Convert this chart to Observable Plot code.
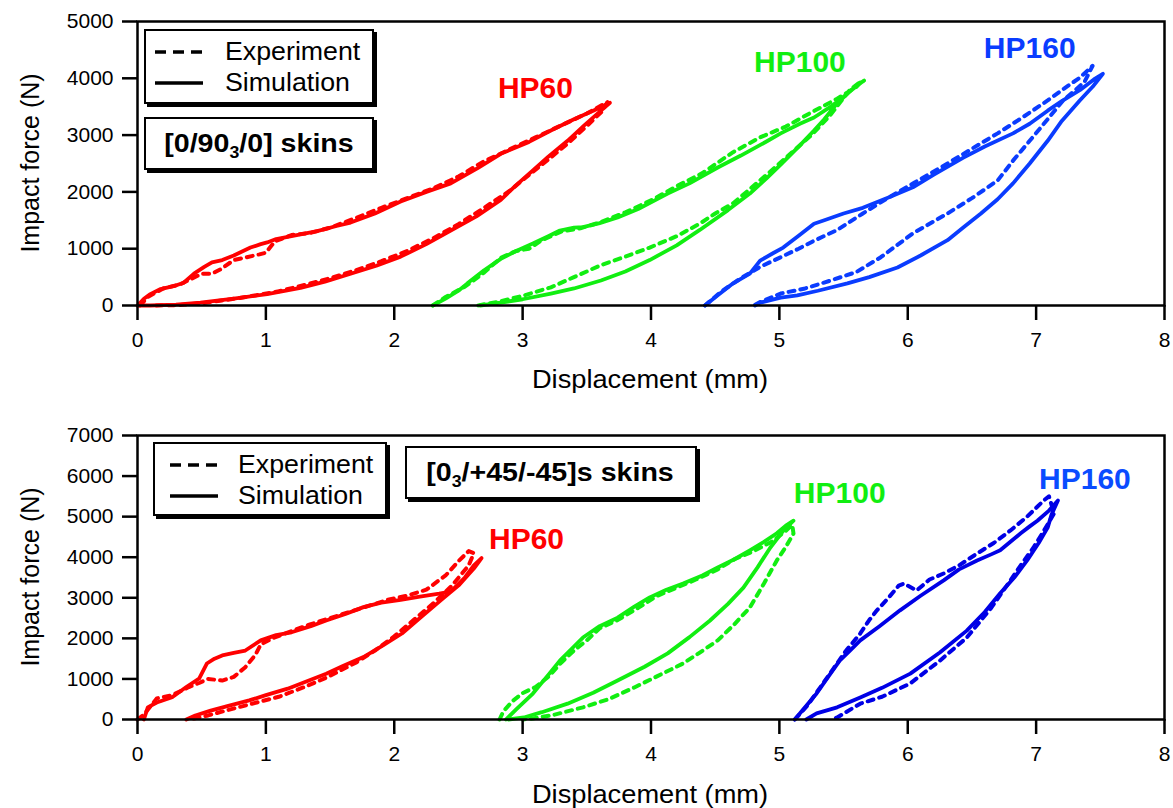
<!DOCTYPE html>
<html>
<head>
<meta charset="utf-8">
<script src="https://cdn.jsdelivr.net/npm/d3@7"></script>
<script src="https://cdn.jsdelivr.net/npm/@observablehq/plot@0.6"></script>
<style>
  html, body { margin: 0; padding: 0; background: #fff; }
  #wrap { position: relative; width: 1173px; height: 808px; font-family: "Liberation Sans", Arial, sans-serif; color: #000; overflow: hidden; }
  .plot { position: absolute; left: 0; }
  .box { position: absolute; box-sizing: border-box; border: 2px solid #000; box-shadow: 3px 3px 0 #000; background: #fff; }
  .txt { position: absolute; white-space: nowrap; line-height: 1; transform-origin: left center; transform: scaleX(1.07); }
  .ctr { position: absolute; white-space: nowrap; line-height: 1; transform: translate(-50%, -50%) scaleX(1.1); }
  .ytitle { position: absolute; white-space: nowrap; font-size: 25px; transform: translate(-50%, -50%) rotate(-90deg); }
  .xtitle { position: absolute; white-space: nowrap; font-size: 25px; transform: translate(-50%, -50%) scaleX(1.09); }
  sub { font-size: 0.62em; vertical-align: -0.35em; line-height: 0; }
</style>
</head>
<body>
<div id="wrap"></div>
<script>
// ---------------- DATA ----------------
const xTicks = [0, 1, 2, 3, 4, 5, 6, 7, 8];
const yTicksTop = [0, 1000, 2000, 3000, 4000, 5000];
const yTicksBottom = [0, 1000, 2000, 3000, 4000, 5000, 6000, 7000];
const specimens = ["HP60", "HP100", "HP160"];
const legendItems = ["Experiment", "Simulation"];

// Top panel: [0/90_3/0] skins  — [displacement mm, force N]
const top_HP60_sim = [[0,0],[0.05,120],[0.10,200],[0.18,290],[0.28,340],[0.36,400],[0.44,560],[0.52,680],[0.58,760],[0.66,800],[0.75,880],[0.88,1020],[0.96,1080],[1.01,1110],[1.08,1170],[1.20,1220],[1.40,1310],[1.55,1400],[1.66,1460],[1.85,1620],[2.05,1830],[2.25,2000],[2.44,2150],[2.65,2420],[2.83,2670],[3.05,2880],[3.22,3080],[3.40,3280],[3.55,3430],[3.68,3570],
  [3.61,3430],[3.48,3170],[3.35,2900],[3.20,2620],[3.08,2380],[2.95,2120],[2.83,1860],[2.64,1570],[2.44,1320],[2.25,1080],[2.05,860],[1.86,700],[1.66,560],[1.46,420],[1.27,310],[1.01,200],[0.75,120],[0.49,50],[0.30,15],[0.10,0],[0,0]];
const top_HP60_exp = [[0.02,0],[0.08,150],[0.20,300],[0.33,370],[0.42,470],[0.50,560],[0.58,560],[0.65,640],[0.75,800],[0.85,850],[0.95,900],[1.00,930],[1.07,1130],[1.20,1240],[1.35,1280],[1.50,1370],[1.70,1540],[1.90,1720],[2.10,1890],[2.30,2060],[2.50,2270],[2.70,2540],[2.90,2750],[3.10,2960],[3.30,3170],[3.50,3380],[3.62,3530],[3.66,3580],
  [3.62,3420],[3.50,3160],[3.35,2850],[3.20,2570],[3.05,2300],[2.90,2020],[2.70,1720],[2.50,1430],[2.30,1180],[2.10,960],[1.90,780],[1.70,620],[1.50,480],[1.30,360],[1.10,250],[0.90,170],[0.70,100],[0.50,40],[0.30,5],[0.10,0]];
const top_HP100_sim = [[2.30,0],[2.40,120],[2.50,260],[2.57,390],[2.70,620],[2.83,820],[2.95,960],[3.08,1090],[3.20,1220],[3.29,1320],[3.40,1370],[3.47,1380],[3.60,1450],[3.74,1550],[3.90,1700],[4.13,1970],[4.30,2150],[4.52,2430],[4.70,2640],[4.91,2900],[5.01,3030],[5.16,3200],[5.27,3310],[5.40,3500],[5.53,3730],[5.62,3900],[5.66,3960],
  [5.58,3830],[5.45,3560],[5.35,3280],[5.27,3080],[5.16,2820],[5.01,2480],[4.90,2240],[4.77,1970],[4.60,1680],[4.38,1330],[4.20,1060],[3.99,800],[3.80,600],[3.61,440],[3.40,300],[3.22,210],[3.00,110],[2.83,50],[2.67,0]];
const top_HP100_exp = [[2.30,0],[2.40,150],[2.55,330],[2.70,580],[2.83,840],[2.95,960],[3.05,1000],[3.15,1150],[3.30,1300],[3.45,1360],[3.60,1460],[3.80,1640],[4.00,1850],[4.20,2100],[4.40,2330],[4.64,2700],[4.85,2960],[5.05,3150],[5.25,3400],[5.45,3640],[5.60,3850],[5.64,3950],
  [5.55,3800],[5.40,3360],[5.25,3000],[5.10,2700],[4.91,2320],[4.77,2050],[4.64,1800],[4.50,1620],[4.38,1440],[4.20,1220],[3.99,1020],[3.80,860],[3.61,710],[3.40,500],[3.22,320],[3.00,170],[2.80,60],[2.65,0]];
const top_HP160_sim = [[4.42,0],[4.52,180],[4.64,390],[4.77,560],[4.85,790],[4.95,920],[5.03,1020],[5.15,1230],[5.27,1440],[5.35,1500],[5.50,1620],[5.65,1720],[5.85,1900],[6.04,2080],[6.20,2300],[6.43,2600],[6.60,2800],[6.82,3030],[6.95,3200],[7.09,3430],[7.20,3600],[7.34,3790],[7.45,3980],[7.52,4080],
  [7.44,3850],[7.34,3610],[7.20,3250],[7.09,2900],[6.95,2500],[6.82,2150],[6.70,1870],[6.57,1620],[6.43,1370],[6.31,1150],[6.10,880],[5.92,670],[5.70,500],[5.53,390],[5.30,260],[5.14,180],[5.01,140],[4.85,50],[4.81,0]];
const top_HP160_exp = [[4.42,0],[4.55,250],[4.70,480],[4.85,680],[5.01,850],[5.15,1000],[5.27,1140],[5.45,1330],[5.65,1620],[5.85,1900],[6.05,2160],[6.31,2500],[6.50,2760],[6.70,3030],[6.90,3320],[7.09,3610],[7.25,3870],[7.34,4010],[7.44,4220],
  [7.38,3950],[7.30,3780],[7.21,3610],[7.09,3280],[6.95,2900],[6.82,2550],[6.70,2200],[6.50,1890],[6.31,1620],[6.04,1270],[5.79,850],[5.60,590],[5.40,440],[5.20,300],[5.01,210],[4.85,60],[4.80,0]];

// Bottom panel: [0_3/+45/-45]s skins
const bot_HP60_sim = [[0.05,0],[0.08,300],[0.15,420],[0.27,550],[0.38,800],[0.48,1010],[0.54,1380],[0.60,1500],[0.66,1580],[0.75,1640],[0.84,1700],[0.96,1950],[1.08,2080],[1.20,2150],[1.35,2300],[1.47,2440],[1.62,2600],[1.76,2770],[1.90,2880],[2.05,2950],[2.20,3030],[2.35,3100],[2.44,3150],[2.55,3500],[2.62,3800],[2.68,3980],
  [2.62,3720],[2.50,3300],[2.36,2930],[2.20,2500],[2.06,2120],[1.90,1800],[1.76,1540],[1.60,1320],[1.47,1130],[1.30,920],[1.17,760],[1.00,600],[0.87,470],[0.70,330],[0.57,220],[0.45,100],[0.38,0]];
const bot_HP60_exp = [[0.00,0],[0.05,120],[0.15,520],[0.27,600],[0.40,800],[0.48,900],[0.55,1000],[0.66,960],[0.75,1050],[0.84,1290],[0.92,1600],[0.96,1850],[1.05,2000],[1.20,2180],[1.35,2350],[1.50,2500],[1.65,2650],[1.80,2800],[1.95,2950],[2.10,3050],[2.25,3200],[2.40,3550],[2.50,3900],[2.58,4150],[2.62,4100],
  [2.58,3800],[2.45,3300],[2.30,2850],[2.15,2450],[2.00,2050],[1.85,1700],[1.70,1400],[1.47,1030],[1.30,800],[1.10,560],[0.87,370],[0.70,230],[0.55,100],[0.45,30],[0.40,0]];
const bot_HP100_sim = [[2.87,0],[2.95,250],[3.08,640],[3.20,1100],[3.29,1450],[3.40,1800],[3.47,2020],[3.60,2300],[3.74,2510],[3.87,2780],[3.99,3010],[4.12,3200],[4.25,3350],[4.40,3550],[4.52,3750],[4.65,3950],[4.77,4170],[4.88,4380],[4.98,4590],[5.05,4780],[5.11,4900],
  [5.03,4650],[4.93,4240],[4.83,3750],[4.72,3250],[4.60,2850],[4.46,2440],[4.30,2030],[4.13,1630],[3.95,1300],[3.74,960],[3.55,660],[3.35,390],[3.15,180],[3.01,50],[2.89,0]];
const bot_HP100_exp = [[2.82,0],[2.85,200],[2.92,450],[3.00,650],[3.10,800],[3.20,1050],[3.30,1400],[3.40,1700],[3.50,1950],[3.60,2250],[3.74,2450],[3.90,2750],[4.05,3050],[4.20,3250],[4.35,3450],[4.52,3700],[4.65,3950],[4.80,4150],[4.95,4400],[5.05,4650],[5.10,4800],
  [5.11,4585],[5.05,4250],[4.98,3920],[4.88,3350],[4.77,2760],[4.65,2350],[4.52,1950],[4.38,1650],[4.25,1380],[4.05,1070],[3.87,790],[3.67,500],[3.47,300],[3.25,120],[3.08,25],[3.00,0]];
const bot_HP160_sim = [[5.12,0],[5.20,300],[5.29,640],[5.38,1050],[5.47,1450],[5.55,1700],[5.63,1950],[5.78,2300],[5.94,2690],[6.10,3050],[6.28,3430],[6.40,3700],[6.54,3920],[6.65,4070],[6.72,4170],[6.80,4380],[6.88,4590],[6.95,4760],[7.01,4900],[7.10,5150],[7.17,5400],
  [7.12,5050],[7.09,4730],[7.02,4350],[6.93,3920],[6.83,3500],[6.72,3110],[6.60,2650],[6.46,2190],[6.25,1650],[6.02,1130],[5.80,780],[5.63,540],[5.45,300],[5.29,150],[5.21,0]];
const bot_HP160_exp = [[5.12,0],[5.22,350],[5.32,800],[5.42,1250],[5.52,1700],[5.63,2120],[5.70,2450],[5.76,2690],[5.85,3000],[5.93,3300],[5.97,3350],[6.07,3180],[6.17,3450],[6.28,3600],[6.40,3800],[6.54,4090],[6.67,4350],[6.80,4660],[6.93,5000],[7.06,5400],[7.10,5500],
  [7.14,5080],[7.06,4650],[6.98,4240],[6.88,3800],[6.80,3430],[6.65,2750],[6.46,2020],[6.25,1450],[6.02,890],[5.80,560],[5.63,390],[5.45,50],[5.40,0]];

// label anchors (data units)
const topLabelX = [3.10, 5.16, 6.95];
const topLabelY = [3820, 4280, 4520];
const botLabelX = [3.03, 5.47, 7.38];
const botLabelY = [4440, 5570, 5920];

// ---------------- STYLE ----------------
const topColors = ["#ff0000", "#11ee11", "#0a3cff"];
const botColors = ["#ff0000", "#11ee11", "#0000e6"];
const botLabelColors = ["#ff0000", "#11ee11", "#0a4cff"];
const FONT = '"Liberation Sans", Arial, sans-serif';

function panel({curves, colors, labelColors, yMax, yTicks, height, marginTop, marginBottom, lx, ly}) {
  const marks = [];
  curves.forEach(([sim, exp], i) => {
    marks.push(Plot.line(exp, {x: d => d[0], y: d => d[1], stroke: colors[i], strokeWidth: 4, strokeDasharray: "6,6"}));
    marks.push(Plot.line(sim, {x: d => d[0], y: d => d[1], stroke: colors[i], strokeWidth: 3.8, strokeLinejoin: "round", strokeLinecap: "round"}));
  });
  const labels = specimens.map((s, i) => ({s, x: lx[i], y: ly[i], c: labelColors[i]}));
  marks.push(Plot.text(labels, {x: "x", y: "y", text: "s", fill: d => d.c, fontWeight: "bold", fontSize: 30, textAnchor: "middle", lineAnchor: "middle"}));
  marks.push(Plot.frame({stroke: "black", strokeWidth: 2.5}));
  marks.push(Plot.axisX({ticks: xTicks, tickSize: 15, tickPadding: 12, tickFormat: d => String(d), label: null, strokeWidth: 2.5, fontSize: 21}));
  marks.push(Plot.axisY({ticks: yTicks, tickSize: 15, tickPadding: 9, tickFormat: d => String(d), label: null, strokeWidth: 2.5, fontSize: 21}));
  return Plot.plot({
    width: 1173, height, marginLeft: 137, marginRight: 9, marginTop, marginBottom,
    x: {domain: [0, 8], ticks: xTicks},
    y: {domain: [0, yMax], ticks: yTicks},
    style: {fontFamily: FONT, fontSize: "21px", color: "black", background: "transparent", overflow: "visible"},
    marks
  });
}

const wrap = document.getElementById("wrap");

const topPlot = panel({
  curves: [[top_HP60_sim, top_HP60_exp], [top_HP100_sim, top_HP100_exp], [top_HP160_sim, top_HP160_exp]],
  colors: topColors, labelColors: topColors, yMax: 5000, yTicks: yTicksTop,
  height: 400, marginTop: 21, marginBottom: 95, lx: topLabelX, ly: topLabelY
});
topPlot.classList.add("plot");
topPlot.style.top = "0px";
wrap.appendChild(topPlot);

const botPlot = panel({
  curves: [[bot_HP60_sim, bot_HP60_exp], [bot_HP100_sim, bot_HP100_exp], [bot_HP160_sim, bot_HP160_exp]],
  colors: botColors, labelColors: botLabelColors, yMax: 7000, yTicks: yTicksBottom,
  height: 408, marginTop: 35, marginBottom: 89, lx: botLabelX, ly: botLabelY
});
botPlot.classList.add("plot");
botPlot.style.top = "400px";
wrap.appendChild(botPlot);

// ---------------- HTML annotations ----------------
function el(html) { const t = document.createElement("template"); t.innerHTML = html.trim(); const n = t.content.firstChild; wrap.appendChild(n); return n; }

el(`<div class="ytitle" style="left:30px;top:163px">Impact force (N)</div>`);
el(`<div class="ytitle" style="left:30px;top:577px">Impact force (N)</div>`);
el(`<div class="xtitle" style="left:650px;top:379px">Displacement (mm)</div>`);
el(`<div class="xtitle" style="left:650px;top:794px">Displacement (mm)</div>`);

function legend(left, top, w, h, lineX0, lineX1, y1, y2, textLeft) {
  el(`<div class="box" style="left:${left}px;top:${top}px;width:${w}px;height:${h}px"></div>`);
  el(`<svg style="position:absolute;left:0;top:0;overflow:visible" width="1" height="1">
      <line x1="${lineX0}" x2="${lineX1}" y1="${y1}" y2="${y1}" stroke="#000" stroke-width="3.5" stroke-dasharray="11,7"/>
      <line x1="${lineX0}" x2="${lineX1}" y1="${y2}" y2="${y2}" stroke="#000" stroke-width="3.5"/>
    </svg>`);
  el(`<div class="txt" style="left:${textLeft}px;top:${y1 - 13}px;font-size:25px">${legendItems[0]}</div>`);
  el(`<div class="txt" style="left:${textLeft}px;top:${y2 - 13}px;font-size:25px">${legendItems[1]}</div>`);
}
legend(144, 29, 230, 75, 155, 203, 52, 83, 225);
legend(153, 442, 234, 74, 170, 218, 465, 496, 238);

el(`<div class="box" style="left:144px;top:117px;width:230px;height:53px"></div>`);
el(`<div class="ctr" style="left:259px;top:143px;font-size:26px;font-weight:bold">[0/90<sub>3</sub>/0] skins</div>`);
el(`<div class="box" style="left:405px;top:446px;width:292px;height:53px"></div>`);
el(`<div class="ctr" style="left:550px;top:472px;font-size:26px;font-weight:bold">[0<sub>3</sub>/+45/-45]s skins</div>`);
</script>
</body>
</html>
